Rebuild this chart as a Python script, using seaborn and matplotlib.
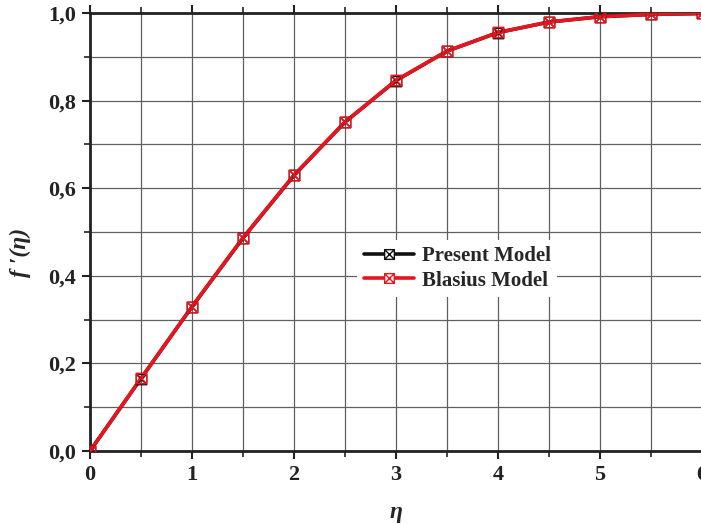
import matplotlib
matplotlib.use("Agg")
import matplotlib.pyplot as plt
import seaborn as sns
import numpy as np
import pandas as pd
from matplotlib.ticker import MultipleLocator, FuncFormatter
from matplotlib.lines import Line2D
from matplotlib.path import Path

eta = [0, 0.5, 1, 1.5, 2, 2.5, 3, 3.5, 4, 4.5, 5, 5.5, 6]
present = [0.0, 0.1655, 0.3293, 0.4862, 0.6292, 0.7508, 0.8458, 0.9129, 0.9554, 0.9794, 0.9915, 0.9968, 0.9989]
blasius = [0.0, 0.1659, 0.3298, 0.4868, 0.6298, 0.7513, 0.8461, 0.9131, 0.9555, 0.9795, 0.9916, 0.9969, 0.9990]
series_names = ["Present Model", "Blasius Model"]
colors = ["#111111", "#e8141e"]

# square-with-X marker
verts = [(-1, -1), (1, -1), (1, 1), (-1, 1), (-1, -1),
         (-1, -1), (1, 1), (-1, 1), (1, -1)]
codes = [Path.MOVETO, Path.LINETO, Path.LINETO, Path.LINETO, Path.CLOSEPOLY,
         Path.MOVETO, Path.LINETO, Path.MOVETO, Path.LINETO]
boxx = Path(verts, codes)

sns.set_style("ticks")
plt.rcParams['font.family'] = ['Liberation Serif', 'DejaVu Serif']
plt.rcParams['font.weight'] = 'bold'

fig = plt.figure(figsize=(7.01, 5.24), dpi=100)
ax = fig.add_axes([90/701, 1-451/524, 612/701, 438/524])

df = pd.DataFrame({"eta": eta * 2,
                   "val": present + blasius,
                   "model": [series_names[0]] * len(eta) + [series_names[1]] * len(eta)})

sns.lineplot(data=df, x="eta", y="val", hue="model", palette=colors, ax=ax,
             linewidth=2.6, legend=False, zorder=3)
for name, c, z in zip(series_names, colors, [4, 5]):
    sub = df[df.model == name]
    ax.plot(sub.eta, sub.val, linestyle='none', marker=boxx, markersize=7.5,
            markerfacecolor='none', markeredgecolor=c, markeredgewidth=1.0, zorder=z)

ax.set_xlim(0, 6)
ax.set_ylim(0, 1.0)
ax.xaxis.set_major_locator(MultipleLocator(1))
ax.xaxis.set_minor_locator(MultipleLocator(0.5))
ax.yaxis.set_major_locator(MultipleLocator(0.2))
ax.yaxis.set_minor_locator(MultipleLocator(0.1))
ax.yaxis.set_major_formatter(FuncFormatter(lambda v, p: f"{v:.1f}".replace('.', ',')))
ax.xaxis.set_major_formatter(FuncFormatter(lambda v, p: f"{v:.0f}"))

ax.grid(True, which='both', color='#606060', linewidth=0.9, zorder=0)
ax.set_axisbelow(True)

for s in ax.spines.values():
    s.set_linewidth(2.0)
    s.set_color('#222222')
    s.set_visible(True)

ax.tick_params(axis='both', which='major', direction='out', length=6, width=1.5,
               labelsize=16, colors='#222222', pad=4)
ax.tick_params(axis='both', which='minor', direction='out', length=4, width=1.2, colors='#222222')
ax.tick_params(top=True, right=True, which='both')
for t in ax.get_xticklabels() + ax.get_yticklabels():
    t.set_fontweight('bold')

ax.set_xlabel("η", fontsize=17, fontweight='bold', fontstyle='italic')
ax.set_ylabel("f ′(η)", fontsize=17, fontweight='bold', fontstyle='italic')
ax.xaxis.set_label_coords(306/612, (451-502)/438)
ax.yaxis.set_label_coords((31-90)/612, (451-252)/438)

handles = []
for c in colors:
    handles.append(Line2D([0], [0], color=c, linewidth=2.6, marker=boxx, markersize=7,
                          markerfacecolor='white', markeredgecolor=c, markeredgewidth=1.0))
leg = ax.legend(handles, series_names, loc='upper left', bbox_to_anchor=(0.42, 0.505),
                frameon=True, fancybox=False, edgecolor='none', facecolor='white', framealpha=1,
                prop={'family': 'Liberation Serif', 'weight': 'bold', 'size': 15},
                handlelength=2.4, handletextpad=0.4, borderpad=0.3, labelspacing=0.2)
leg.set_zorder(10)

fig.savefig("out.png", dpi=100)
